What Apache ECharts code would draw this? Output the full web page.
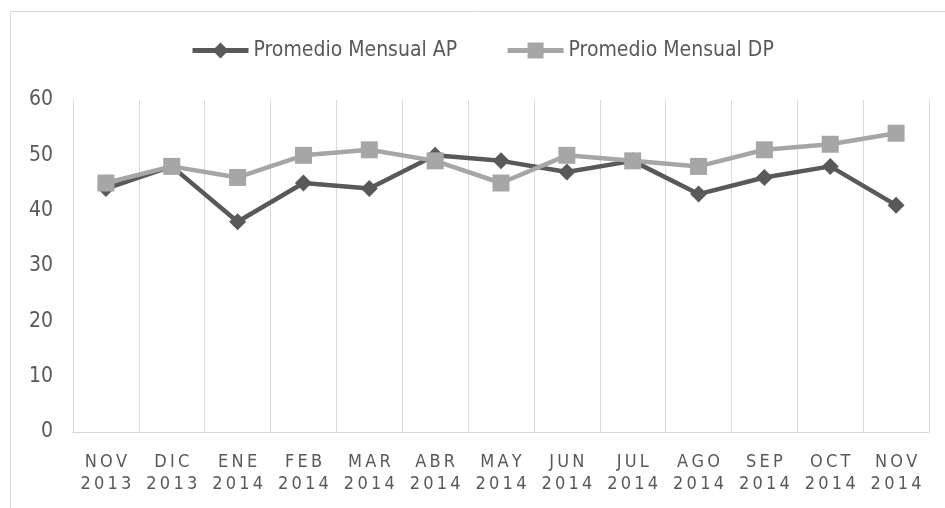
<!DOCTYPE html>
<html>
<head>
<meta charset="utf-8">
<script src="https://cdn.jsdelivr.net/npm/echarts@6/dist/echarts.min.js"></script>
<style>
  html, body { margin: 0; padding: 0; background: #fff; }
  #chart { width: 945px; height: 508px; }
</style>
</head>
<body>
<div id="chart"></div>
<script>
var meses = ['NOV', 'DIC', 'ENE', 'FEB', 'MAR', 'ABR', 'MAY', 'JUN', 'JUL', 'AGO', 'SEP', 'OCT', 'NOV'];
var anios = ['2013', '2013', '2014', '2014', '2014', '2014', '2014', '2014', '2014', '2014', '2014', '2014', '2014'];
var promedioAP = [44, 48, 38, 45, 44, 50, 49, 47, 49, 43, 46, 48, 41];
var promedioDP = [45, 48, 46, 50, 51, 49, 45, 50, 49, 48, 51, 52, 54];
var seriesNames = ['Promedio Mensual AP', 'Promedio Mensual DP'];

var fuente = "'DejaVu Sans Condensed', 'Liberation Sans Narrow', Lato, sans-serif";

// separa las letras para imitar el espaciado del original
function espaciar(txt) {
  return txt.split('').join('\u2009');
}

var categorias = meses.map(function (m, i) {
  return espaciar(m) + '\n' + espaciar(anios[i]);
});

var myChart = echarts.init(document.getElementById('chart'), null, { renderer: 'canvas' });
var option = {
  backgroundColor: '#fff',
  animation: false,
  textStyle: { fontFamily: fuente },
  graphic: [{
    type: 'rect',
    shape: { x: 10.5, y: 11.5, width: 960, height: 520 },
    style: { fill: 'none', stroke: '#d9d9d9', lineWidth: 1 },
    silent: true
  }],
  legend: {
    left: 185,
    top: 35,
    itemWidth: 56,
    itemHeight: 20,
    itemGap: 48,
    lineStyle: { width: 5 },
    textStyle: { color: '#595959', fontSize: 21, fontFamily: fuente },
    data: seriesNames
  },
  grid: { left: 73, right: 16, top: 100, bottom: 76 },
  xAxis: {
    type: 'category',
    data: categorias,
    boundaryGap: true,
    axisLine: { show: true, lineStyle: { color: '#d9d9d9', width: 1 } },
    axisTick: { show: false },
    splitLine: { show: true, lineStyle: { color: '#d9d9d9', width: 1 } },
    axisLabel: {
      color: '#595959',
      fontSize: 18,
      lineHeight: 22,
      margin: 19,
      interval: 0,
      fontFamily: fuente
    }
  },
  yAxis: {
    type: 'value',
    min: 0,
    max: 60,
    interval: 10,
    axisLine: { show: false },
    axisTick: { show: false },
    splitLine: { show: false },
    axisLabel: { color: '#595959', fontSize: 21, margin: 20, fontFamily: fuente }
  },
  series: [
    {
      name: seriesNames[0],
      type: 'line',
      data: promedioAP,
      symbol: 'diamond',
      symbolSize: 17,
      color: '#595959',
      lineStyle: { color: '#595959', width: 4.5 },
      itemStyle: { color: '#595959' },
      z: 2
    },
    {
      name: seriesNames[1],
      type: 'line',
      data: promedioDP,
      symbol: 'rect',
      symbolSize: 17,
      color: '#a6a6a6',
      lineStyle: { color: '#a6a6a6', width: 4.5 },
      itemStyle: { color: '#a6a6a6' },
      z: 3
    }
  ]
};
myChart.setOption(option);
</script>
</body>
</html>
